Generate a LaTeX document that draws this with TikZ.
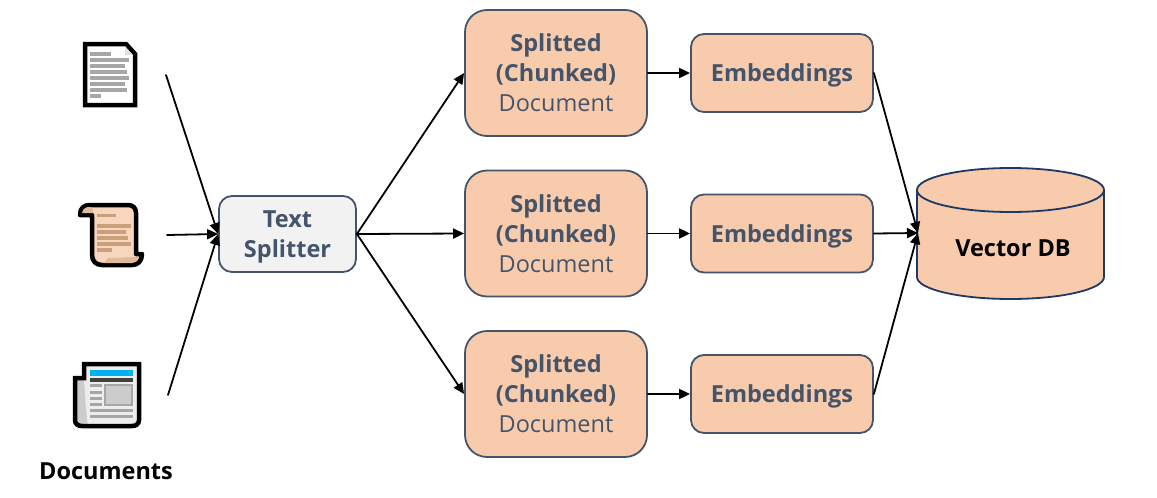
\documentclass[tikz,border=0pt]{standalone}
\usepackage{fontspec}
\setmainfont{Open Sans}
\usetikzlibrary{arrows.meta}
\definecolor{peach}{HTML}{F7CBAC}
\definecolor{slate}{HTML}{44546A}
\definecolor{navy}{HTML}{1F3864}
\definecolor{barline}{HTML}{A6A6A6}
\definecolor{scrollfill}{HTML}{F8D5BE}
\definecolor{scrollfold}{HTML}{E2B999}
\definecolor{scrollline}{HTML}{C9A07A}
\definecolor{newsblue}{HTML}{00B0F0}
\begin{document}
\begin{tikzpicture}[x=1pt, y=-1pt, line join=round, line cap=round, >={Triangle[length=11pt,width=10pt]},
	txt/.style={font=\fontsize{23.5}{30}\selectfont\bfseries, text=slate, align=center},
	splitbox/.style={draw=slate, line width=1.8pt, fill=#1, rounded corners=13pt, txt},
	chunkbox/.style={splitbox=peach, minimum width=182pt, minimum height=126pt, rounded corners=22pt},
	embedbox/.style={splitbox=peach, minimum width=182pt, minimum height=78pt, text depth=0pt},
	arrow/.style={->, line width=1.8pt},
	icon/.style={line width=4.5pt, draw=black},
	bar/.style={line width=3.2pt, draw=barline, line cap=butt}]
	\useasboundingbox (0,0) rectangle (1157,498);
	
	% Coordinates of the free ends
	\coordinate (doc1) at (166,75);
	\coordinate (doc2) at (167,235);
	\coordinate (doc3) at (168,395);
	\coordinate (vdbin) at (918,233);
	
	% Page icon
	\draw[icon, fill=white, line join=miter] (85,44)--(126,44)--(135,54)--(135,105)--(85,105)--cycle;
	\fill[black!12] (125,46)--(133,55)--(125,55)--cycle;
	\draw[bar] (90,54)--(111,54);
	\draw[bar] (90,60)--(129,60);
	\draw[bar] (90,66)--(125,66);
	\draw[bar] (90,72)--(127,72);
	\draw[bar] (90,78)--(129,78);
	\draw[bar] (90,84)--(125,84);
	\draw[bar] (90,90)--(127,90);
	\draw[bar] (90,96)--(101,96);
	
	% Scroll icon
	\draw[icon, fill=scrollfill] (80,215) .. controls (80,208) and (84,205) .. (90,205)--(128,205) .. controls (133,205) and (136,208) .. (136,213)--(136,254)--(142,254) .. controls (142,261) and (138,265) .. (132,265)--(102,265) .. controls (96,265) and (92,261) .. (92,255)--(92,215)--cycle;
	\fill[scrollfold] (82,213) .. controls (83,208) and (86,207) .. (90,207) .. controls (93,207) and (93,211) .. (93,213)--cycle;
	\fill[scrollfold] (104,263) .. controls (107,260) and (107,258) .. (109,258)--(139,257) .. controls (138,261) and (135,263) .. (132,263)--cycle;
	\draw[bar, draw=scrollline] (97,215.5)--(116,215.5);
	\draw[bar, draw=scrollline] (97,226)--(131,226);
	\draw[bar, draw=scrollline] (97,232)--(126,232);
	\draw[bar, draw=scrollline] (97,238)--(128,238);
	\draw[bar, draw=scrollline] (97,244)--(131,244);
	\draw[bar, draw=scrollline] (97,250)--(112,250);
	
	% Newspaper icon
	\fill[black!20] (75,378)--(84,378)--(90,426)--(82,426) .. controls (78,426) and (75,424) .. (75,420)--cycle;
	\fill[black!7] (84,364)--(139,364)--(139,420) .. controls (139,424) and (136,426) .. (132,426)--(88,426) .. controls (86,410) .. (84,378)--cycle;
	\draw[icon, line join=miter] (84,378)--(75,378)--(75,420) .. controls (75,424) and (78,426) .. (82,426)--(132,426) .. controls (136,426) and (139,424) .. (139,420)--(139,364)--(84,364)--cycle;
	\fill[newsblue] (90,370) rectangle (133,376);
	\fill[black!75] (90,378) rectangle (133,382);
	\fill[barline] (104,384) rectangle (133,406);
	\fill[black!20] (106,386) rectangle (131,404);
	\draw[bar] (90,385.5)--(102,385.5);
	\draw[bar] (90,392.5)--(102,392.5);
	\draw[bar] (90,398.5)--(102,398.5);
	\draw[bar] (90,404.5)--(102,404.5);
	\draw[bar] (90,410.5)--(133,410.5);
	\draw[bar] (90,416.5)--(133,416.5);
	
	\node[txt, text=black] (docs) at (106,471) {Documents};
	
	% Boxes
	\node[splitbox=black!5, minimum width=137pt, minimum height=76pt, text depth=0pt] (split) at (287.5,234) {Text\\Splitter};
	\node[chunkbox] (chunk1) at (556,73) {Splitted\\(Chunked)\\\mdseries Document};
	\node[chunkbox] (chunk2) at (556,233.5) {Splitted\\(Chunked)\\\mdseries Document};
	\node[chunkbox] (chunk3) at (556,394) {Splitted\\(Chunked)\\\mdseries Document};
	\node[embedbox] (embed1) at (782,73) {Embeddings};
	\node[embedbox] (embed2) at (782,233.5) {Embeddings};
	\node[embedbox] (embed3) at (782,394) {Embeddings};
	
	% Database
	\draw[draw=navy, line width=1.8pt, fill=peach] (917,190) arc[x radius=93.5, y radius=22, start angle=180, end angle=360]--(1104,277) arc[x radius=93.5, y radius=22, start angle=0, end angle=180]--cycle;
	\draw[draw=navy, line width=1.8pt] (917,190) arc[x radius=93.5, y radius=22, start angle=180, end angle=0];
	\node[txt, text=black] (vdb) at (1013,248) {Vector DB};
	
	% Connectors
	\draw[arrow] (doc1)--(split.west);
	\draw[arrow] (doc2)--(split.west);
	\draw[arrow] (doc3)--(split.west);
	\draw[arrow] (split.east)--(chunk1.west);
	\draw[arrow] (split.east)--(chunk2.west);
	\draw[arrow] (split.east)--(chunk3.west);
	\draw[arrow] (chunk1)--(embed1);
	\draw[arrow] (chunk2)--(embed2);
	\draw[arrow] (chunk3)--(embed3);
	\draw[arrow] (embed1.east)--(vdbin);
	\draw[arrow] (embed2.east)--(vdbin);
	\draw[arrow] (embed3.east)--(vdbin);
\end{tikzpicture}
\end{document}
